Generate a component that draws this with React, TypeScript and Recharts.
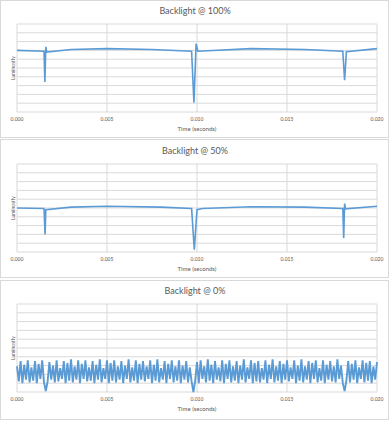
import { CartesianGrid, Line, LineChart, ReferenceLine, XAxis, YAxis } from "recharts";

// time axis (seconds) and luminosity gridline steps
const TIME_TICKS = [0, 0.005, 0.01, 0.015, 0.02];
const LUM_TICKS = [0, 1, 2, 3, 4, 5, 6, 7, 8, 9, 10];

// Backlight @ 100%
const full100Time = [
  0, 0.0015, 0.00155, 0.0016, 0.00165, 0.003, 0.005, 0.0075, 0.0097, 0.00983,
  0.00995, 0.01005, 0.013, 0.016, 0.0181, 0.0182, 0.0183, 0.02,
];
const full100Lum = [
  7.0, 6.9, 3.4, 7.4, 6.8, 7.1, 7.2, 7.1, 6.9, 1.05,
  7.75, 6.9, 7.2, 7.1, 6.9, 3.6, 6.85, 7.2,
];

// Backlight @ 50%
const half50Time = [
  0, 0.0015, 0.00156, 0.0016, 0.003, 0.005, 0.008, 0.0097, 0.00985, 0.01,
  0.0103, 0.013, 0.016, 0.0181, 0.01815, 0.0182, 0.01825, 0.02,
];
const half50Lum = [
  5.0, 4.95, 2.0, 4.8, 5.1, 5.2, 5.1, 4.95, 0.25, 4.8,
  4.95, 5.15, 5.1, 4.95, 1.6, 5.5, 4.9, 5.2,
];

// Backlight @ 0%: samples every 0.0001 s
const ZERO_STEP = 0.0001;
const zeroLum = [
  2.9, 1.2, 3.5, 1.0, 3.1, 1.4, 3.6, 1.1, 2.8, 1.3,
  3.5, 1.0, 3.2, 1.5, 3.6, 1.1, 0.1, 1.2, 3.4, 1.4,
  3.0, 1.1, 3.6, 1.2, 2.7, 1.5, 3.5, 1.0, 3.3, 1.3,
  3.7, 1.1, 2.9, 1.4, 3.6, 1.0, 3.2, 1.5, 3.6, 1.2,
  2.8, 1.3, 3.5, 1.0, 3.1, 1.4, 3.7, 1.1, 2.7, 1.5,
  3.6, 1.0, 3.3, 1.3, 3.6, 1.1, 2.9, 1.4, 3.5, 1.0,
  3.0, 1.5, 3.7, 1.1, 2.8, 1.3, 3.6, 1.0, 3.2, 1.4,
  3.5, 1.2, 2.9, 1.5, 3.6, 1.0, 3.1, 1.3, 3.7, 1.1,
  2.7, 1.4, 3.5, 1.0, 3.2, 1.5, 3.6, 1.1, 2.9, 1.3,
  3.6, 1.0, 3.0, 1.4, 3.5, 1.1, 2.8, 1.2, 0.0, 1.3,
  3.4, 1.0, 3.6, 1.5, 2.9, 1.1, 3.7, 1.3, 3.1, 1.0,
  3.5, 1.4, 2.8, 1.2, 3.6, 1.0, 3.2, 1.5, 3.6, 1.1,
  2.9, 1.3, 3.5, 1.0, 3.0, 1.4, 3.7, 1.1, 2.8, 1.5,
  3.6, 1.0, 3.3, 1.2, 3.5, 1.1, 2.7, 1.4, 3.6, 1.0,
  3.1, 1.5, 3.7, 1.1, 2.9, 1.3, 3.5, 1.0, 3.2, 1.4,
  3.6, 1.2, 2.8, 1.5, 3.6, 1.0, 3.0, 1.3, 3.7, 1.1,
  2.9, 1.4, 3.5, 1.0, 3.3, 1.5, 3.6, 1.1, 2.7, 1.3,
  3.6, 1.0, 3.1, 1.4, 3.5, 1.2, 2.9, 1.1, 3.7, 1.5,
  3.0, 1.0, 0.1, 1.3, 3.5, 1.1, 3.2, 1.4, 3.6, 1.0,
  2.8, 1.5, 3.6, 1.1, 3.3, 1.3, 3.5, 1.0, 2.9, 1.4,
  3.4,
];

const BLUE = "#5b9bd5";
const GRID = "#d9d9d9";
const TEXT = "#595959";
const FONT = "Lato, 'Open Sans', sans-serif";

interface Point {
  t: number;
  v: number;
}

function pair(times: number[], lums: number[]): Point[] {
  return times.map((t, i) => ({ t, v: lums[i] }));
}

const panels = [
  {
    title: "Backlight @ 100%",
    data: pair(full100Time, full100Lum),
    top: 0,
    height: 139,
    plotTop: 24,
    plotBottom: 112,
    width: 1.6,
  },
  {
    title: "Backlight @ 50%",
    data: pair(half50Time, half50Lum),
    top: 139,
    height: 140,
    plotTop: 25,
    plotBottom: 113,
    width: 1.6,
  },
  {
    title: "Backlight @ 0%",
    data: zeroLum.map((v, i) => ({ t: i * ZERO_STEP, v })),
    top: 280,
    height: 141,
    plotTop: 24,
    plotBottom: 112,
    width: 1.9,
  },
];

type PanelProps = (typeof panels)[number];

function Panel({ title, data, top, height, plotTop, plotBottom, width }: PanelProps) {
  const mid = (plotTop + plotBottom) / 2;
  return (
    <div style={{ position: "absolute", left: 0, top, width: 390, height }}>
      <div
        style={{
          position: "absolute",
          left: 0,
          top: 0,
          width: 389,
          height: height - 1,
          border: `1px solid ${GRID}`,
          boxSizing: "border-box",
          background: "#fff",
        }}
      />
      <LineChart
        width={390}
        height={height}
        data={data}
        margin={{ top: plotTop, right: 13, bottom: 0, left: 0 }}
      >
        <CartesianGrid
          stroke={GRID}
          strokeWidth={1}
          horizontal={false}
          verticalValues={TIME_TICKS}
        />
        <XAxis
          dataKey="t"
          type="number"
          domain={[0, 0.02]}
          ticks={TIME_TICKS}
          tickFormatter={(v: number) => v.toFixed(3)}
          axisLine={false}
          tickLine={false}
          tickSize={0}
          tickMargin={5}
          height={height - plotBottom}
          tick={{ fill: TEXT, fontSize: 5, fontFamily: FONT }}
          interval={0}
        />
        <YAxis
          type="number"
          domain={[0, 10]}
          ticks={LUM_TICKS}
          tick={false}
          axisLine={false}
          tickLine={false}
          width={17}
        />
        {LUM_TICKS.map((v) => (
          <ReferenceLine key={v} y={v} stroke={GRID} strokeWidth={1} />
        ))}
        <Line
          type="linear"
          dataKey="v"
          stroke={BLUE}
          strokeWidth={width}
          dot={false}
          isAnimationActive={false}
        />
      </LineChart>
      <div
        style={{
          position: "absolute",
          left: 0,
          width: 390,
          top: plotTop - 19,
          textAlign: "center",
          fontFamily: FONT,
          fontSize: 9,
          color: TEXT,
        }}
      >
        {title}
      </div>
      <div
        style={{
          position: "absolute",
          left: 17,
          width: 360,
          top: plotBottom + 13,
          textAlign: "center",
          fontFamily: FONT,
          fontSize: 6,
          color: TEXT,
          lineHeight: "8px",
        }}
      >
        Time (seconds)
      </div>
      <div
        style={{
          position: "absolute",
          left: 13 - 20,
          top: mid - 4,
          width: 40,
          height: 8,
          lineHeight: "8px",
          textAlign: "center",
          transform: "rotate(-90deg)",
          fontFamily: FONT,
          fontSize: 5,
          color: TEXT,
        }}
      >
        Luminosity
      </div>
    </div>
  );
}

export default function App() {
  return (
    <div
      style={{
        position: "absolute",
        left: 0,
        top: 0,
        width: 390,
        height: 421,
        background: "#fff",
        overflow: "hidden",
      }}
    >
      {panels.map((p) => (
        <Panel key={p.title} {...p} />
      ))}
    </div>
  );
}
